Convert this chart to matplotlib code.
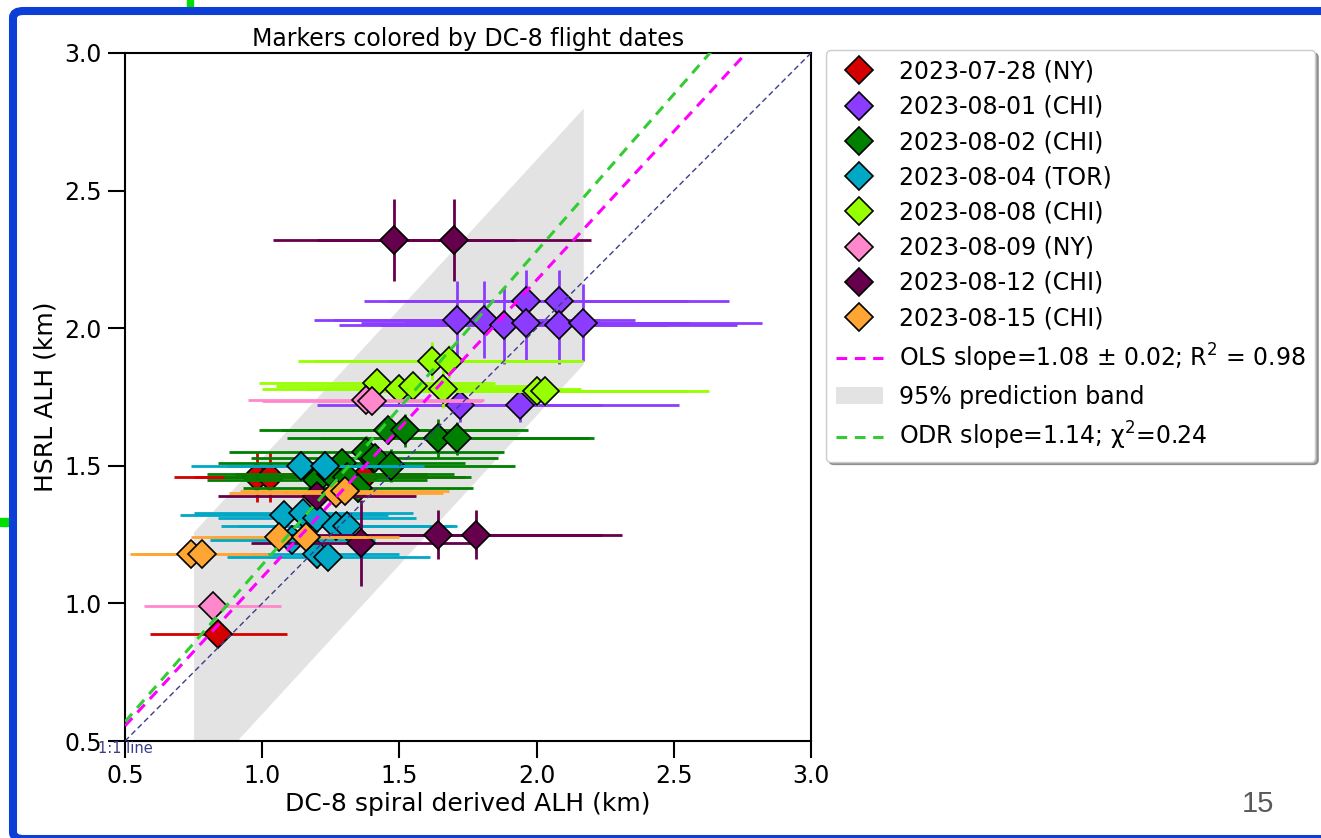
import matplotlib
matplotlib.use('Agg')
import matplotlib.pyplot as plt
from matplotlib.lines import Line2D
from matplotlib.patches import Patch, FancyBboxPatch, Rectangle

plt.rcParams['font.family'] = ['DejaVu Sans']

# ---------------- data ----------------
labels = ['2023-07-28 (NY)', '2023-08-01 (CHI)', '2023-08-02 (CHI)', '2023-08-04 (TOR)',
          '2023-08-08 (CHI)', '2023-08-09 (NY)', '2023-08-12 (CHI)', '2023-08-15 (CHI)']
colors = ['#d40000', '#8c3cff', '#008000', '#00a8c6', '#96ff00', '#ff88cc', '#66004c', '#ffa533']

d0728_x = [0.84, 0.98, 1.03, 1.25, 1.37]
d0728_y = [0.89, 1.46, 1.46, 1.47, 1.46]
d0728_xerr = [0.25, 0.30, 0.28, 0.35, 0.37]
d0728_yerr = [0.03, 0.09, 0.09, 0.05, 0.05]

d0801_x = [1.96, 2.08, 1.71, 1.81, 1.88, 1.96, 2.08, 2.17, 1.72, 1.94]
d0801_y = [2.10, 2.10, 2.03, 2.03, 2.01, 2.02, 2.01, 2.02, 1.72, 1.72]
d0801_xerr = [0.59, 0.62, 0.52, 0.55, 0.60, 0.60, 0.65, 0.65, 0.52, 0.58]
d0801_yerr = [0.11, 0.11, 0.14, 0.14, 0.14, 0.14, 0.14, 0.14, 0.06, 0.06]

d0802_x = [1.46, 1.52, 1.64, 1.71, 1.38, 1.41, 1.47, 1.29, 1.20, 1.25, 1.31, 1.35]
d0802_y = [1.63, 1.63, 1.60, 1.60, 1.55, 1.53, 1.50, 1.51, 1.45, 1.47, 1.46, 1.42]
d0802_xerr = [0.47, 0.45, 0.55, 0.50, 0.50, 0.45, 0.45, 0.45, 0.40, 0.45, 0.45, 0.42]
d0802_yerr = [0.05, 0.06, 0.07, 0.06, 0.06, 0.05, 0.06, 0.05, 0.05, 0.05, 0.05, 0.05]

d0804_x = [1.14, 1.23, 1.08, 1.15, 1.20, 1.27, 1.31, 1.20, 1.24, 1.11]
d0804_y = [1.50, 1.50, 1.32, 1.33, 1.31, 1.28, 1.28, 1.18, 1.17, 1.23]
d0804_xerr = [0.40, 0.36, 0.38, 0.40, 0.36, 0.42, 0.40, 0.30, 0.37, 0.30]
d0804_yerr = [0.05, 0.05, 0.05, 0.05, 0.05, 0.05, 0.05, 0.05, 0.05, 0.04]

d0808_x = [1.62, 1.68, 1.42, 1.50, 1.55, 1.66, 2.00, 2.03]
d0808_y = [1.88, 1.88, 1.80, 1.78, 1.79, 1.78, 1.77, 1.77]
d0808_xerr = [0.49, 0.49, 0.43, 0.50, 0.50, 0.50, 0.55, 0.60]
d0808_yerr = [0.07, 0.06, 0.05, 0.05, 0.05, 0.07, 0.05, 0.05]

d0809_x = [0.82, 1.38, 1.40]
d0809_y = [0.99, 1.74, 1.735]
d0809_xerr = [0.25, 0.43, 0.40]
d0809_yerr = [0.03, 0.04, 0.04]

d0812_x = [1.48, 1.70, 1.36, 1.64, 1.78, 1.20]
d0812_y = [2.32, 2.32, 1.22, 1.25, 1.25, 1.39]
d0812_xerr = [0.44, 0.50, 0.40, 0.60, 0.53, 0.36]
d0812_yerr = [0.15, 0.15, 0.155, 0.09, 0.09, 0.04]

d0815_x = [0.74, 0.78, 1.06, 1.16, 1.27, 1.30]
d0815_y = [1.18, 1.18, 1.24, 1.24, 1.40, 1.41]
d0815_xerr = [0.22, 0.24, 0.32, 0.34, 0.39, 0.38]
d0815_yerr = [0.03, 0.03, 0.04, 0.04, 0.05, 0.05]

ols_slope, ols_intercept = 1.08, 0.015
odr_slope, odr_intercept = 1.14, 0.0
line_x = [0.5, 3.0]
band_x = [0.75, 2.17]
band_lo = [0.33, 1.87]
band_hi = [1.26, 2.80]

ols_label = 'OLS slope=1.08 ± 0.02; R$^2$ = 0.98'
band_label = '95% prediction band'
odr_label = 'ODR slope=1.14; χ$^2$=0.24'

groups = [
    (d0728_x, d0728_y, d0728_xerr, d0728_yerr),
    (d0801_x, d0801_y, d0801_xerr, d0801_yerr),
    (d0802_x, d0802_y, d0802_xerr, d0802_yerr),
    (d0804_x, d0804_y, d0804_xerr, d0804_yerr),
    (d0808_x, d0808_y, d0808_xerr, d0808_yerr),
    (d0809_x, d0809_y, d0809_xerr, d0809_yerr),
    (d0812_x, d0812_y, d0812_xerr, d0812_yerr),
    (d0815_x, d0815_y, d0815_xerr, d0815_yerr),
]

# ---------------- figure ----------------
W, H = 1321, 838
fig = plt.figure(figsize=(W / 100, H / 100), dpi=100)
fig.patch.set_facecolor('white')
ax = fig.add_axes([125 / W, 1 - 741 / H, (811 - 125) / W, (741 - 53) / H])

# prediction band
ax.fill_between(band_x, band_lo, band_hi, color='#e3e3e3', lw=0, zorder=0.5)

handles = []
for (gx, gy, gxe, gye), c, lab in zip(groups, colors, labels):
    ax.errorbar(gx, gy, xerr=gxe, yerr=gye, fmt='none', ecolor=c, elinewidth=2.0,
                capsize=0, zorder=2)
    h, = ax.plot(gx, gy, ls='none', marker='D', ms=13.8, mfc=c, mec='black', mew=1.2,
                 zorder=2, label=lab)
    handles.append(h)

ly_ols = [ols_slope * v + ols_intercept for v in line_x]
ly_odr = [odr_slope * v + odr_intercept for v in line_x]
ax.plot(line_x, line_x, ls=(0, (4, 2.5)), color='#3c3c8c', lw=1.0, zorder=3)
ax.plot(line_x, ly_ols, ls=(0, (3.5, 2.5)), color='#ff00ff', lw=2.2, zorder=3)
ax.plot(line_x, ly_odr, ls=(0, (3.5, 2.5)), color='#33cc33', lw=2.2, zorder=3)
ax.text(0.5, 0.5, '1:1 line', color='#3c3c8c', fontsize=10.5, ha='center', va='top',
        zorder=4, clip_on=False)

ax.set_xlim(0.5, 3.0)
ax.set_ylim(0.5, 3.0)
ax.set_xticks([0.5, 1.0, 1.5, 2.0, 2.5, 3.0])
ax.set_yticks([0.5, 1.0, 1.5, 2.0, 2.5, 3.0])
ax.tick_params(axis='both', direction='out', length=12.5, width=1.5, labelsize=17, pad=4)
for s in ax.spines.values():
    s.set_linewidth(1.5)
ax.set_xlabel('DC-8 spiral derived ALH (km)', fontsize=18, labelpad=3)
ax.set_ylabel('HSRL ALH (km)', fontsize=18, labelpad=5)
ax.set_title('Markers colored by DC-8 flight dates', fontsize=17, pad=5)

leg_handles = handles + [Line2D([], [], ls=(0, (3.5, 2.5)), color='#ff00ff', lw=2.2),
                         Patch(facecolor='#e3e3e3', edgecolor='none'),
                         Line2D([], [], ls=(0, (3.5, 2.5)), color='#33cc33', lw=2.2)]
leg_labels = labels + [ols_label, band_label, odr_label]
leg = ax.legend(leg_handles, leg_labels, loc='upper left', bbox_to_anchor=(1.022, 1.004),
                borderaxespad=0, fontsize=17, numpoints=1, shadow=True, frameon=True,
                handlelength=2.0, handletextpad=0.7, labelspacing=0.475)
leg.get_frame().set_edgecolor('#cccccc')

# slide decorations: blue frame, page number
frame = FancyBboxPatch((13 / W, -1 / H), 1.05, (H - 11 + 1) / H,
                       boxstyle='round,pad=0,rounding_size=0.008', transform=fig.transFigure,
                       fill=False, edgecolor='#0b3fd6', lw=5.8, zorder=10)
fig.patches.append(frame)
fig.patches.append(Rectangle((187 / W, 1 - 7 / H), 6 / W, 7 / H, transform=fig.transFigure,
                             color='#00e000', zorder=9))
fig.patches.append(Rectangle((0, 1 - 526 / H), 9 / W, 8 / H, transform=fig.transFigure,
                             color='#00e000', zorder=9))
fig.text(1258 / W, 1 - 804 / H, '15', fontsize=21, color='#595959', family='Liberation Sans',
         ha='center', va='center')

fig.savefig('out.png', dpi=100)
